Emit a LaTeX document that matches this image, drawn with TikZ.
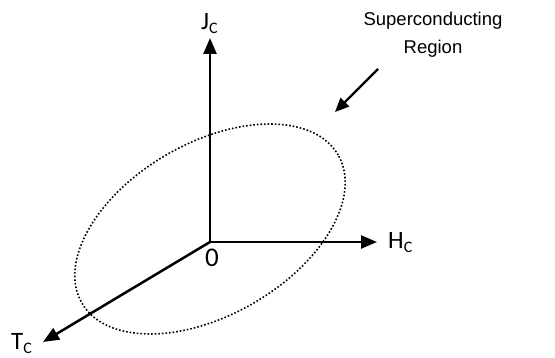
\documentclass[tikz,border=0pt]{standalone}
\usepackage{fontspec}
\setmainfont{Liberation Sans}
\newfontfamily\calfont{Carlito}
\usetikzlibrary{arrows.meta,positioning}
\newcommand{\lowc}{\raisebox{-4pt}{\fontsize{16}{16}\selectfont C}}

\begin{document}
\begin{tikzpicture}[x=1pt, y=1pt, >={Triangle[length=16pt,width=13pt]}]
        \useasboundingbox (0,0) rectangle (555,358);
        \tikzset{
          axis/.style={line width=2.5pt, ->},
          lbl/.style={font=\calfont\fontsize{25}{28}\selectfont, inner sep=0pt, anchor=base west}
        }
        \path 
        (210,116) coordinate (O)
        (210,320) coordinate (J)
        (377,116) coordinate (H)
        (43,16)   coordinate (T)
        (210,129) coordinate (C)
        (378,289) coordinate (a1)
        (335,246) coordinate (a2)
        ;

        % region
        \draw[dotted, line width=1.6pt] (C) ellipse [x radius=148, y radius=86, rotate=30];

        % axes
        \draw[axis] (O) -- (J);
        \draw[axis] (O) -- (H);
        \draw[axis] (O) -- (T);

        \node[lbl] (Jl) at (201,328) {J\lowc};
        \node[lbl] (Hl) at (388,109) {H\lowc};
        \node[lbl] (Tl) at (11,8) {T\lowc};
        \node[lbl, font=\calfont\fontsize{27}{30}\selectfont] (zero) at (205,91) {0};

        \node[font=\fontsize{18.5}{28}\selectfont, align=center, inner sep=0pt, anchor=north] (region) at (433,346) {Superconducting\\Region};
        \draw[line width=2.2pt, -{Triangle[length=14pt,width=12pt]}] (a1) -- (a2);
\end{tikzpicture}
\end{document}
